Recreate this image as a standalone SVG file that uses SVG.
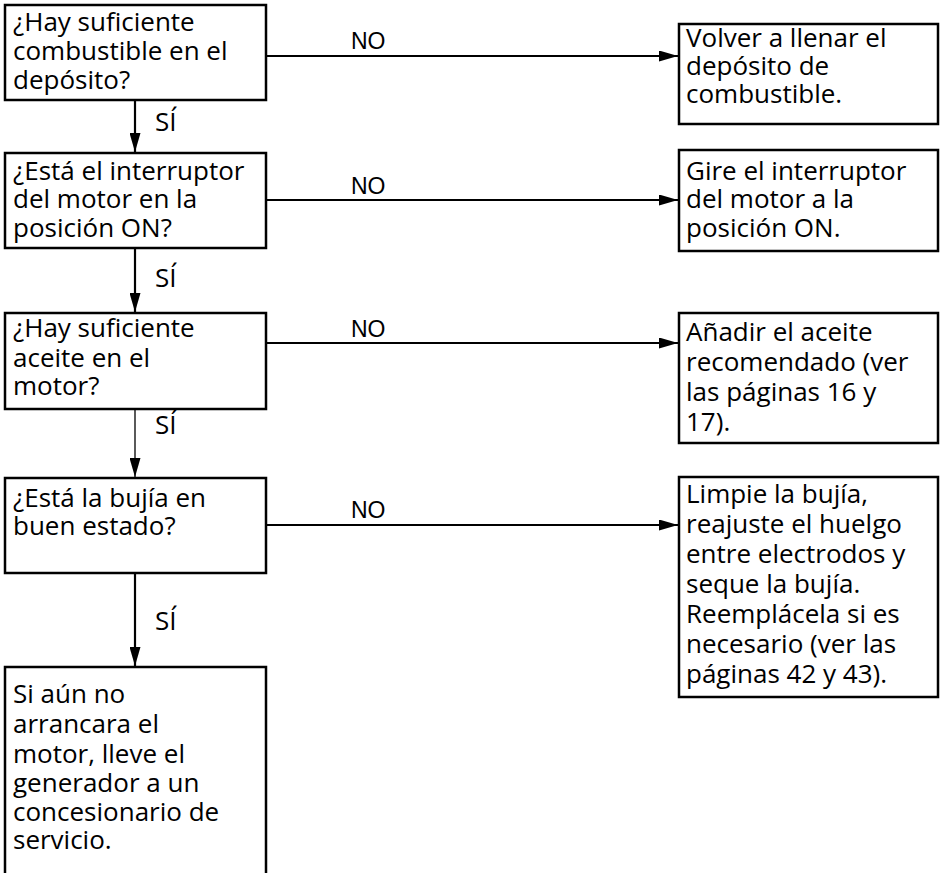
<svg xmlns="http://www.w3.org/2000/svg" width="942" height="873" viewBox="0 0 942 873">
<style>
.box{fill:#fff;stroke:#000;stroke-width:2.5}
.t{font-family:"Open Sans","Noto Sans",sans-serif;font-size:26px;fill:#000}
.no{font-family:"Liberation Sans",Arial,sans-serif;font-size:23px;fill:#000}
.c{stroke:#000;stroke-width:2.2;fill:none}
.thin{stroke-width:1.3}
</style>
<defs>
<marker id="ah" viewBox="0 0 19 11" refX="19" refY="5.5" markerWidth="19" markerHeight="11" markerUnits="userSpaceOnUse" orient="auto">
<path d="M0,0 L19,5.5 L0,11 z" fill="#000"/>
</marker>
</defs>
<rect width="942" height="873" fill="#fff"/>
<g id="connectors">
<line class="c" x1="266" y1="56" x2="678" y2="56" marker-end="url(#ah)"/>
<line class="c" x1="266" y1="200" x2="678" y2="200" marker-end="url(#ah)"/>
<line class="c" x1="266" y1="343" x2="678" y2="343" marker-end="url(#ah)"/>
<line class="c" x1="266" y1="525" x2="678" y2="525" marker-end="url(#ah)"/>
<line class="c" x1="135" y1="100" x2="135" y2="152" marker-end="url(#ah)"/>
<line class="c" x1="135" y1="248" x2="135" y2="312" marker-end="url(#ah)"/>
<line class="c thin" x1="135" y1="409" x2="135" y2="477" marker-end="url(#ah)"/>
<line class="c" x1="135" y1="573" x2="135" y2="666" marker-end="url(#ah)"/>
<text class="no" x="351" y="49">NO</text>
<text class="no" x="351" y="194">NO</text>
<text class="no" x="351" y="337">NO</text>
<text class="no" x="351" y="518">NO</text>
<text class="t" x="155" y="131">SÍ</text>
<text class="t" x="155" y="287">SÍ</text>
<text class="t" x="155" y="434">SÍ</text>
<text class="t" x="155" y="630">SÍ</text>
</g>
<g id="q1">
<rect class="box" x="5" y="5" width="261" height="95"/>
<text class="t" x="13"><tspan x="13" y="31">¿Hay suficiente</tspan><tspan x="13" y="60">combustible en el</tspan><tspan x="13" y="89">depósito?</tspan></text>
</g>
<g id="a1">
<rect class="box" x="679" y="24" width="259" height="100"/>
<text class="t"><tspan x="686" y="47">Volver a llenar el</tspan><tspan x="686" y="75">depósito de</tspan><tspan x="686" y="103">combustible.</tspan></text>
</g>
<g id="q2">
<rect class="box" x="5" y="153" width="261" height="95"/>
<text class="t"><tspan x="13" y="180">¿Está el interruptor</tspan><tspan x="13" y="208">del motor en la</tspan><tspan x="13" y="237">posición ON?</tspan></text>
</g>
<g id="a2">
<rect class="box" x="679" y="150" width="259" height="101"/>
<text class="t"><tspan x="686" y="180">Gire el interruptor</tspan><tspan x="686" y="208">del motor a la</tspan><tspan x="686" y="237">posición ON.</tspan></text>
</g>
<g id="q3">
<rect class="box" x="5" y="313" width="261" height="96"/>
<text class="t"><tspan x="13" y="337">¿Hay suficiente</tspan><tspan x="13" y="367">aceite en el</tspan><tspan x="13" y="395">motor?</tspan></text>
</g>
<g id="a3">
<rect class="box" x="679" y="313" width="259" height="130"/>
<text class="t"><tspan x="686" y="341">Añadir el aceite</tspan><tspan x="686" y="371">recomendado (ver</tspan><tspan x="686" y="401">las páginas 16 y</tspan><tspan x="686" y="431">17).</tspan></text>
</g>
<g id="q4">
<rect class="box" x="5" y="478" width="261" height="95"/>
<text class="t"><tspan x="13" y="507">¿Está la bujía en</tspan><tspan x="13" y="535">buen estado?</tspan></text>
</g>
<g id="a4">
<rect class="box" x="679" y="477" width="259" height="220"/>
<text class="t"><tspan x="686" y="503">Limpie la bujía,</tspan><tspan x="686" y="533">reajuste el huelgo</tspan><tspan x="686" y="563">entre electrodos y</tspan><tspan x="686" y="593">seque la bujía.</tspan><tspan x="686" y="623">Reemplácela si es</tspan><tspan x="686" y="653">necesario (ver las</tspan><tspan x="686" y="683">páginas 42 y 43).</tspan></text>
</g>
<g id="end">
<rect class="box" x="5" y="667" width="261" height="230"/>
<text class="t"><tspan x="13" y="703">Si aún no</tspan><tspan x="13" y="733">arrancara el</tspan><tspan x="13" y="763">motor, lleve el</tspan><tspan x="13" y="792">generador a un</tspan><tspan x="13" y="821">concesionario de</tspan><tspan x="13" y="849">servicio.</tspan></text>
</g>
</svg>
